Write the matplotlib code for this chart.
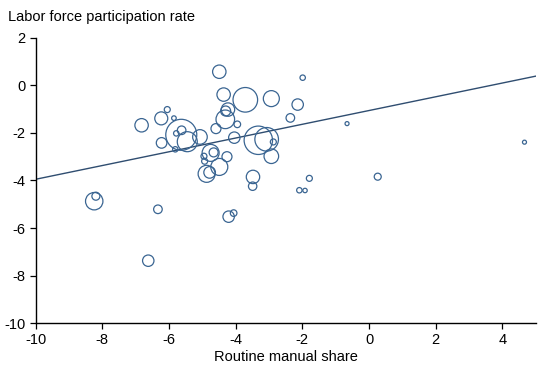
import matplotlib
matplotlib.use("Agg")
import matplotlib.pyplot as plt
import numpy as np

plt.rcParams['font.family'] = ['Liberation Sans', 'DejaVu Sans']
plt.rcParams['axes.unicode_minus'] = False

# Routine manual share (x) vs labor force participation rate (y), bubble size (radius, px)
routine_manual = [-4.49, -1.99, -3.71, -2.93, -2.14, -2.36, -0.66, 4.66, 0.26, -1.79,
                  -2.09, -1.92, -8.24, -8.19, -6.33, -6.62, -4.21, -4.06, -3.49, -3.48,
                  -4.36, -4.23, -4.30, -4.31, -3.95, -4.59, -4.04, -3.32, -3.07, -2.87,
                  -2.93, -6.82, -6.23, -6.05, -5.85, -5.63, -5.62, -5.78, -5.45, -5.07,
                  -6.22, -5.81, -4.75, -4.66, -4.95, -4.93, -4.26, -4.49, -4.87, -4.78]
participation = [0.57, 0.32, -0.61, -0.56, -0.81, -1.37, -1.61, -2.39, -3.84, -3.91,
                 -4.41, -4.42, -4.87, -4.66, -5.21, -7.37, -5.52, -5.37, -4.24, -3.85,
                 -0.39, -1.02, -1.08, -1.43, -1.64, -1.82, -2.20, -2.31, -2.27, -2.38,
                 -2.98, -1.68, -1.39, -1.02, -1.38, -2.08, -1.89, -2.02, -2.37, -2.17,
                 -2.42, -2.69, -2.84, -2.82, -2.98, -3.19, -3.00, -3.43, -3.72, -3.66]
bubble_radius = [6.7, 2.7, 12.3, 8.0, 5.7, 4.3, 2.0, 2.0, 3.5, 3.0,
                 2.7, 2.2, 8.7, 4.0, 4.3, 5.7, 5.7, 3.3, 4.2, 6.7,
                 6.7, 6.7, 5.0, 9.3, 3.3, 5.0, 5.7, 14.2, 11.8, 3.0,
                 7.3, 6.7, 6.5, 3.0, 2.3, 15.5, 4.3, 2.7, 10.0, 7.3,
                 5.3, 2.7, 8.5, 4.5, 3.0, 3.0, 5.0, 8.5, 8.5, 5.8]
fit_intercept = -1.06
fit_slope = 0.289

x_ticks = [-10, -8, -6, -4, -2, 0, 2, 4]
y_ticks = [2, 0, -2, -4, -6, -8, -10]

circle_color = '#3a6592'
line_color = '#2f4d70'

fig = plt.figure(figsize=(5.49, 3.66), dpi=100)
ax = fig.add_axes([0.0647, 0.1167, 0.9113, 0.7803])

sizes = [(2 * r * 0.72) ** 2 for r in bubble_radius]
ax.scatter(routine_manual, participation, s=sizes, facecolors='none',
           edgecolors=circle_color, linewidths=0.9, zorder=3)

xl = np.array([-10, 5])
ax.plot(xl, fit_intercept + fit_slope * xl, color=line_color, linewidth=1.0, zorder=2)

ax.set_xlim(-10, 5)
ax.set_ylim(-10, 2)
ax.set_xticks(x_ticks)
ax.set_yticks(y_ticks)
ax.tick_params(direction='out', length=4, width=0.9, labelsize=10.5, colors='black', pad=3)
for s in ['top', 'right']:
    ax.spines[s].set_visible(False)
for s in ['left', 'bottom']:
    ax.spines[s].set_linewidth(1.0)

ax.set_xlabel('Routine manual share', fontsize=10.5, labelpad=2)
fig.text(0.0146, 0.953, 'Labor force participation rate', fontsize=10.5, ha='left', va='center')

fig.savefig('out.png', dpi=100)
